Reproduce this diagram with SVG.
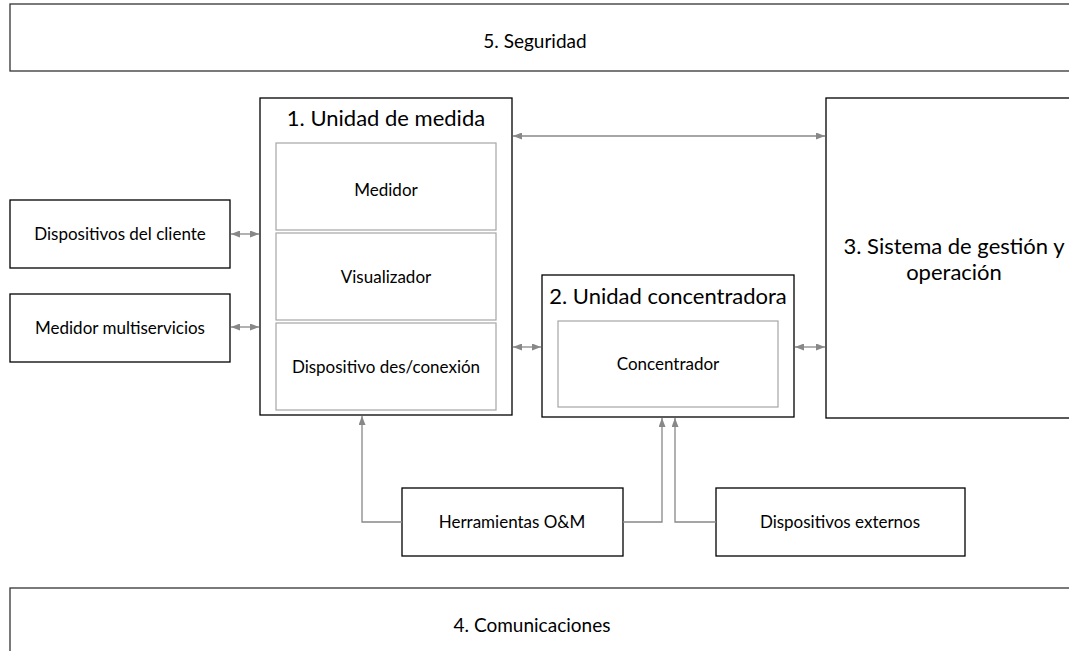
<svg xmlns="http://www.w3.org/2000/svg" width="1069" height="651" viewBox="0 0 1069 651">
<style>
.box{fill:#fff;stroke:#000;stroke-width:1.3}
.bar{fill:#fff;stroke:#333;stroke-width:1.3}
.inner{fill:#fff;stroke:#a6a6a6;stroke-width:1.2}
.t{font-family:Lato,"Liberation Sans",sans-serif;fill:#000;text-anchor:middle}
.s{font-size:17px}
.l{font-size:22px}
.b{font-size:19px}
.c{fill:none;stroke:#888;stroke-width:1.3}
</style>
<defs>
<marker id="ah" markerWidth="9" markerHeight="7" refX="9" refY="3.5" orient="auto-start-reverse" markerUnits="userSpaceOnUse">
<path d="M0,0 L9,3.5 L0,7 Z" fill="#888"/>
</marker>
</defs>
<rect width="1069" height="651" fill="#fff"/>
<g id="seguridad">
<rect class="bar" x="10" y="4" width="1080" height="67"/>
<text class="t b" x="535" y="48">5. Seguridad</text>
</g>
<g id="comunicaciones">
<rect class="bar" x="10" y="588" width="1080" height="80"/>
<text class="t b" x="532" y="632">4. Comunicaciones</text>
</g>
<g id="unidad-medida">
<rect class="box" x="260" y="98" width="252" height="317"/>
<text class="t l" x="386" y="126">1. Unidad de medida</text>
</g>
<g id="medidor">
<rect class="inner" x="276" y="143" width="220" height="87"/>
<text class="t s" x="386" y="196">Medidor</text>
</g>
<g id="visualizador">
<rect class="inner" x="276" y="233" width="220" height="87"/>
<text class="t s" x="386" y="283">Visualizador</text>
</g>
<g id="dispositivo">
<rect class="inner" x="276" y="323" width="220" height="87"/>
<text class="t s" x="386" y="373">Dispositivo des/conexión</text>
</g>
<g id="dispositivos-cliente">
<rect class="box" x="10" y="200" width="220" height="68"/>
<text class="t s" x="120" y="240">Dispositivos del cliente</text>
</g>
<g id="medidor-multiservicios">
<rect class="box" x="10" y="294" width="220" height="68"/>
<text class="t s" x="120" y="334">Medidor multiservicios</text>
</g>
<g id="unidad-concentradora">
<rect class="box" x="542" y="275" width="252" height="142"/>
<text class="t l" x="668" y="304">2. Unidad concentradora</text>
</g>
<g id="concentrador">
<rect class="inner" x="558" y="321" width="220" height="86"/>
<text class="t s" x="668" y="370">Concentrador</text>
</g>
<g id="sistema-gestion">
<rect class="box" x="826" y="98" width="270" height="320"/>
<text class="t l" x="954" y="254">3. Sistema de gestión y</text>
<text class="t l" x="954" y="280">operación</text>
</g>
<g id="herramientas">
<rect class="box" x="402" y="488" width="221" height="68"/>
<text class="t s" x="512" y="528">Herramientas O&amp;M</text>
</g>
<g id="dispositivos-externos">
<rect class="box" x="716" y="488" width="249" height="68"/>
<text class="t s" x="840" y="528">Dispositivos externos</text>
</g>
<g id="connectors">
<line class="c" x1="231" y1="234" x2="259" y2="234" marker-start="url(#ah)" marker-end="url(#ah)"/>
<line class="c" x1="231" y1="327" x2="259" y2="327" marker-start="url(#ah)" marker-end="url(#ah)"/>
<line class="c" x1="513" y1="136" x2="825" y2="136" marker-start="url(#ah)" marker-end="url(#ah)"/>
<line class="c" x1="513" y1="347" x2="541" y2="347" marker-start="url(#ah)" marker-end="url(#ah)"/>
<line class="c" x1="795" y1="347" x2="825" y2="347" marker-start="url(#ah)" marker-end="url(#ah)"/>
<polyline class="c" points="402,522 362,522 362,416" marker-end="url(#ah)"/>
<polyline class="c" points="623,522 662,522 662,418" marker-end="url(#ah)"/>
<polyline class="c" points="716,522 675,522 675,418" marker-end="url(#ah)"/>
</g>
</svg>
